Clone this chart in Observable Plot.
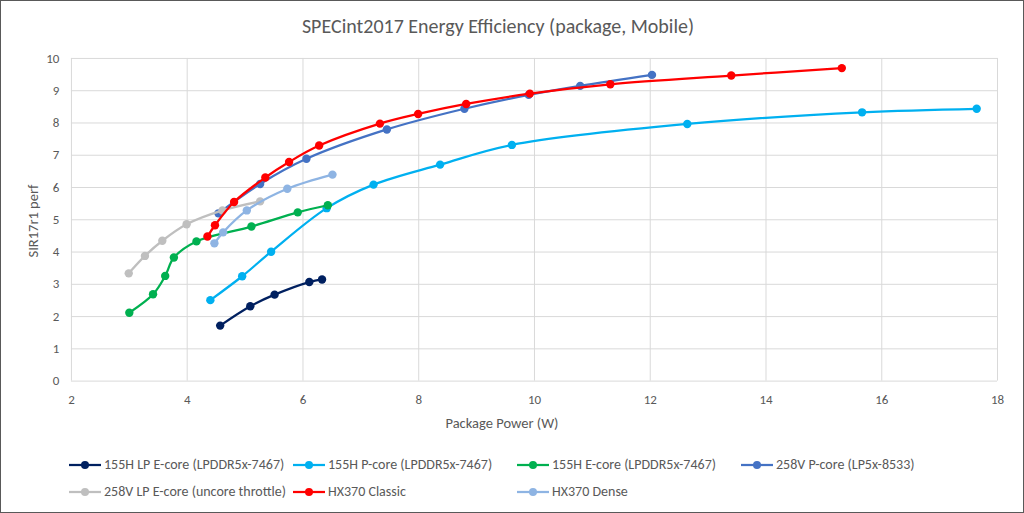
<!DOCTYPE html>
<html>
<head>
<meta charset="utf-8">
<script src="https://cdn.jsdelivr.net/npm/d3@7"></script>
<script src="https://cdn.jsdelivr.net/npm/@observablehq/plot@0.6"></script>
<style>
  html, body { margin: 0; padding: 0; background: #fff; }
  #frame { position: relative; width: 1022px; height: 511px; border: 1px solid #595959; overflow: hidden; font-family: Carlito, Lato, sans-serif; color: #595959; }
  #title { position: absolute; top: 13px; left: 0; width: 994px; text-align: center; font-size: 20px; white-space: nowrap; }
  #chart { position: absolute; top: -1px; left: -1px; }
  #xlabel { position: absolute; top: 413px; left: 0; width: 1002px; text-align: center; font-size: 14.5px; }
  #ylabel { position: absolute; left: 32px; top: 220px; transform: translate(-50%, -50%) rotate(-90deg); font-size: 14.5px; white-space: nowrap; }
  #legend { position: absolute; top: 454px; left: 67px; display: grid; grid-template-columns: repeat(4, 224px); row-gap: 8px; font-size: 14px; }
  .item { display: flex; align-items: center; height: 19px; white-space: nowrap; }
  .item svg { margin-right: 2px; flex: none; }
</style>
</head>
<body>
<div id="frame">
  <div id="title">SPECint2017 Energy Efficiency (package, Mobile)</div>
  <div id="chart"></div>
  <div id="xlabel">Package Power (W)</div>
  <div id="ylabel">SIR17r1 perf</div>
  <div id="legend"></div>
</div>
<script>
// ---- Data ----
const seriesNames = [
  "155H LP E-core (LPDDR5x-7467)",
  "155H P-core (LPDDR5x-7467)",
  "155H E-core (LPDDR5x-7467)",
  "258V P-core (LP5x-8533)",
  "258V LP E-core (uncore throttle)",
  "HX370 Classic",
  "HX370 Dense"
];
const seriesColors = ["#002060", "#00B0F0", "#00B050", "#4472C4", "#BFBFBF", "#FF0000", "#8EB4E3"];

const lpE155Power = [4.57, 5.09, 5.51, 6.11, 6.33];
const lpE155Perf  = [1.72, 2.32, 2.68, 3.07, 3.15];

const p155Power = [4.40, 4.95, 5.45, 6.41, 7.22, 8.37, 9.61, 12.64, 15.66, 17.64];
const p155Perf  = [2.51, 3.25, 4.01, 5.36, 6.09, 6.71, 7.32, 7.97, 8.33, 8.44];

const e155Power = [3.00, 3.41, 3.62, 3.77, 4.16, 5.11, 5.91, 6.43];
const e155Perf  = [2.12, 2.69, 3.26, 3.83, 4.33, 4.79, 5.23, 5.45];

const p258Power = [4.54, 5.26, 6.06, 7.45, 8.79, 9.90, 10.79, 12.03];
const p258Perf  = [5.20, 6.11, 6.89, 7.80, 8.44, 8.87, 9.15, 9.49];

const lpE258Power = [2.99, 3.27, 3.57, 3.99, 4.61, 5.26];
const lpE258Perf  = [3.34, 3.88, 4.35, 4.86, 5.29, 5.57];

const hxClassicPower = [4.35, 4.48, 4.81, 5.35, 5.76, 6.28, 7.33, 7.99, 8.82, 9.92, 11.31, 13.40, 15.31];
const hxClassicPerf  = [4.48, 4.83, 5.55, 6.31, 6.79, 7.30, 7.98, 8.28, 8.59, 8.91, 9.20, 9.47, 9.70];

const hxDensePower = [4.47, 4.62, 5.03, 5.73, 6.51];
const hxDensePerf  = [4.27, 4.61, 5.29, 5.96, 6.40];

const xTicks = [2, 4, 6, 8, 10, 12, 14, 16, 18];
const yTicks = [0, 1, 2, 3, 4, 5, 6, 7, 8, 9, 10];

// ---- Build table ----
const seriesPower = [lpE155Power, p155Power, e155Power, p258Power, lpE258Power, hxClassicPower, hxDensePower];
const seriesPerf  = [lpE155Perf, p155Perf, e155Perf, p258Perf, lpE258Perf, hxClassicPerf, hxDensePerf];
const data = [];
seriesNames.forEach((name, i) => {
  seriesPower[i].forEach((x, j) => data.push({series: name, order: i, power: x, perf: seriesPerf[i][j]}));
});

const marks = [
  Plot.ruleX(xTicks, {stroke: "#D9D9D9", strokeWidth: 1}),
  Plot.ruleY(yTicks, {stroke: "#D9D9D9", strokeWidth: 1})
];
seriesNames.forEach((name, i) => {
  const d = data.filter(r => r.order === i);
  marks.push(Plot.line(d, {x: "power", y: "perf", stroke: seriesColors[i], strokeWidth: 2.25, curve: "catmull-rom"}));
  marks.push(Plot.dot(d, {x: "power", y: "perf", r: 4.2, fill: seriesColors[i], stroke: "none"}));
});

const chart = Plot.plot({
  width: 1024,
  height: 440,
  marginLeft: 71,
  marginRight: 26,
  marginTop: 58,
  marginBottom: 59,
  style: {fontFamily: "Carlito, Lato, sans-serif", fontSize: "13px", color: "#595959", background: "transparent"},
  x: {domain: [2, 18], ticks: xTicks, tickSize: 0, tickPadding: 14, label: null},
  y: {domain: [0, 10], ticks: yTicks, tickSize: 0, tickPadding: 12, label: null},
  marks
});
document.getElementById("chart").appendChild(chart);

// ---- Legend ----
const legend = document.getElementById("legend");
seriesNames.forEach((name, i) => {
  const item = document.createElement("div");
  item.className = "item";
  item.innerHTML = `<svg width="34" height="12"><line x1="1" y1="6" x2="33" y2="6" stroke="${seriesColors[i]}" stroke-width="2.25"/><circle cx="17" cy="6" r="4" fill="${seriesColors[i]}"/></svg><span>${name}</span>`;
  legend.appendChild(item);
});
</script>
</body>
</html>
